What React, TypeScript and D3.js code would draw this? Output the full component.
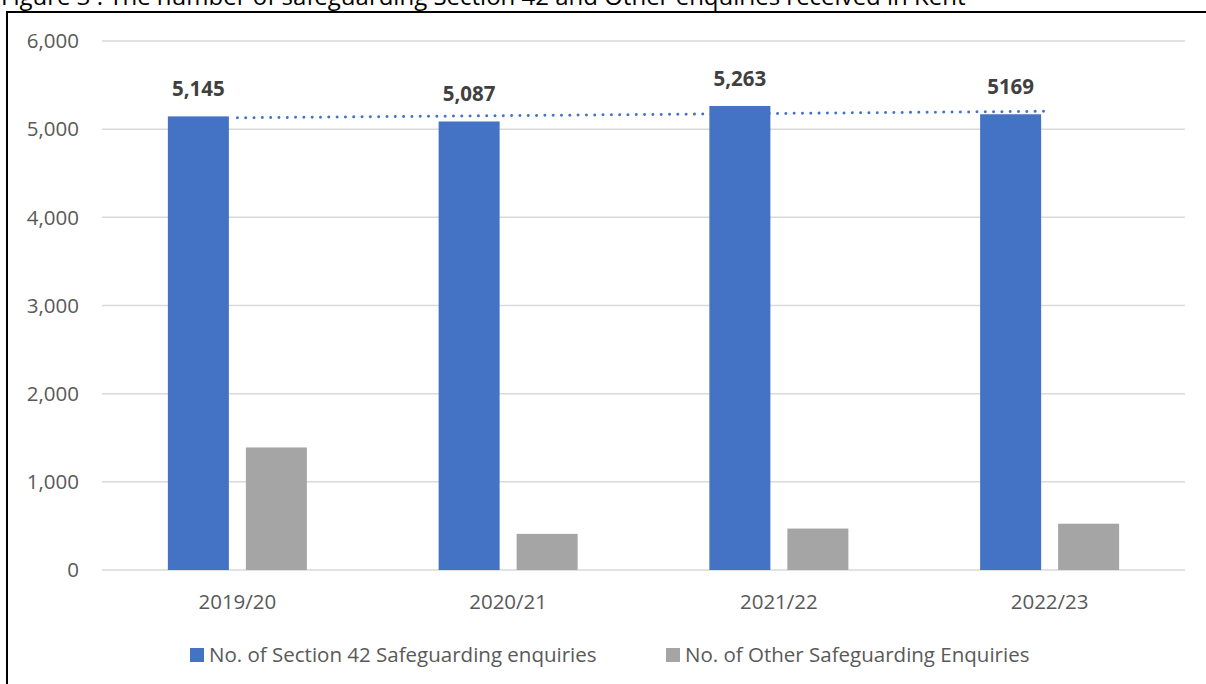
import React from "react";
import * as d3 from "d3";

const categories = ["2019/20", "2020/21", "2021/22", "2022/23"];
const section42 = [5145, 5087, 5263, 5169];
const section42Labels = ["5,145", "5,087", "5,263", "5169"];
const otherEnquiries = [1390, 410, 470, 525];
const yTicks = [0, 1000, 2000, 3000, 4000, 5000, 6000];
const seriesNames = [
  "No. of Section 42 Safeguarding enquiries",
  "No. of Other Safeguarding Enquiries",
];
const titleText =
  "Figure 3 : The number of safeguarding Section 42 and Other enquiries received in Kent";

const W = 1206;
const H = 684;
const BLUE = "#4472C4";
const GREY = "#A5A5A5";
const FONT = "'Open Sans', 'DejaVu Sans', sans-serif";

export default function App() {
  const plotLeft = 102;
  const plotRight = 1185;
  const x = d3.scaleBand<string>().domain(categories).range([plotLeft, plotRight]);
  const y = d3.scaleLinear().domain([0, 6000]).range([570, 41]);
  const fmt = d3.format(",");

  const barW = 61;
  const gap = 17;
  const groupW = barW * 2 + gap;
  const center = (c: string) => (x(c) as number) + x.bandwidth() / 2;

  // linear trendline through the Section 42 series
  const idx = section42.map((_, i) => i + 1);
  const mx = d3.mean(idx) as number;
  const my = d3.mean(section42) as number;
  const slope =
    d3.sum(idx.map((v, i) => (v - mx) * (section42[i] - my))) /
    d3.sum(idx.map((v) => (v - mx) * (v - mx)));
  const intercept = my - slope * mx;
  const trendPts: [number, number][] = [1, categories.length].map((k) => [
    center(categories[k - 1]),
    y(intercept + slope * k),
  ]);
  const trendPath = d3.line()(trendPts) as string;

  return (
    <div style={{ position: "absolute", left: 0, top: 0 }}>
      <svg width={W} height={H} style={{ display: "block", background: "#fff" }}>
        <text x={1} y={5} fontFamily={FONT} fontSize={24} fill="#000">
          {titleText}
        </text>
        <rect x={7} y={12} width={W + 10} height={H + 10} fill="none" stroke="#000" strokeWidth={2} />

        {yTicks.map((t) => (
          <g key={t}>
            <line x1={plotLeft} x2={plotRight} y1={y(t)} y2={y(t)} stroke="#D9D9D9" strokeWidth={1.5} />
            <text
              x={79}
              y={y(t)}
              dy="0.35em"
              textAnchor="end"
              fontFamily={FONT}
              fontSize={20.5}
              fill="#595959"
            >
              {fmt(t)}
            </text>
          </g>
        ))}

        {categories.map((c, i) => {
          const cx = center(c);
          const bx = cx - groupW / 2;
          const gx = bx + barW + gap;
          return (
            <g key={c}>
              <rect x={bx} y={y(section42[i])} width={barW} height={y(0) - y(section42[i])} fill={BLUE} />
              <rect x={gx} y={y(otherEnquiries[i])} width={barW} height={y(0) - y(otherEnquiries[i])} fill={GREY} />
              <text
                x={bx + barW / 2}
                y={y(section42[i]) - 20}
                textAnchor="middle"
                fontFamily={FONT}
                fontSize={20.5}
                fontWeight="bold"
                fill="#404040"
              >
                {section42Labels[i]}
              </text>
              <text
                x={cx}
                y={609}
                textAnchor="middle"
                fontFamily={FONT}
                fontSize={20.5}
                fill="#595959"
              >
                {c}
              </text>
            </g>
          );
        })}

        <path
          d={trendPath}
          fill="none"
          stroke={BLUE}
          strokeWidth={3}
          strokeLinecap="round"
          strokeDasharray="0.01 8.3"
        />

        {[
          { x: 190, color: BLUE, label: seriesNames[0] },
          { x: 666, color: GREY, label: seriesNames[1] },
        ].map((l) => (
          <g key={l.label}>
            <rect x={l.x} y={648} width={14} height={14} fill={l.color} />
            <text x={l.x + 19} y={662} fontFamily={FONT} fontSize={20.5} fill="#595959">
              {l.label}
            </text>
          </g>
        ))}
      </svg>
    </div>
  );
}
